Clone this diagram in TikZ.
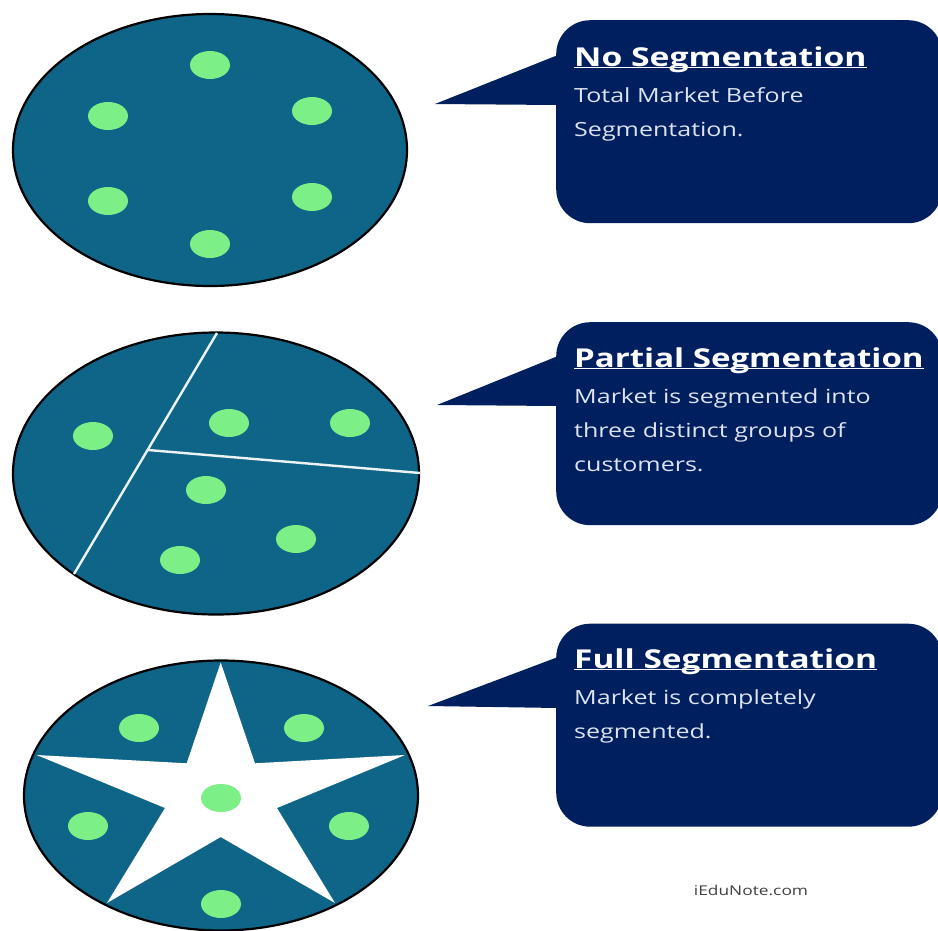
\documentclass[tikz,border=0pt]{standalone}
\usepackage{fontspec}
\usepackage{graphicx}
\setmainfont{Open Sans}
\usetikzlibrary{shapes.geometric}
\definecolor{teal1}{HTML}{0F6587}
\definecolor{navy1}{HTML}{001F5F}
\definecolor{green1}{HTML}{7DEF87}
\definecolor{body1}{HTML}{DDE4F0}
\newcommand{\wide}[1]{\scalebox{1.285}[1]{#1}}
\newcommand{\headline}[2]{\scalebox{#1}[1]{\underline{\smash{#2}}}}
\tikzset{
  x=1pt,y=-1pt,
  disc/.style={ellipse,draw=black,line width=2.2pt,fill=teal1,inner sep=0pt,minimum width=#1},
  dot/.style={ellipse,fill=green1,inner sep=0pt,minimum width=40pt,minimum height=28pt},
  bubble/.style={rectangle,fill=navy1,rounded corners=34pt,inner sep=0pt,minimum width=386pt,minimum height=203pt,anchor=north west},
  tail/.style={fill=navy1},
  head/.style={anchor=base west,inner sep=0pt,text=white,font=\fontsize{26}{30}\selectfont\bfseries},
  bodytext/.style={anchor=base west,inner sep=0pt,text=body1,font=\fontsize{19.5}{24}\selectfont},
  cut/.style={draw=white!92!teal1,line width=2.4pt}
}
\begin{document}
\begin{tikzpicture}
\useasboundingbox (0,0) rectangle (938,930);
\fill[white] (0,0) rectangle (938,930);
% circle 1
\node[disc=394pt,minimum height=272pt] (c1) at (210,150) {};
\foreach \n/\p in {a/{210,65},b/{108,116},c/{312,111},d/{108,201},e/{312,197},f/{210,244}}
  \node[dot] (d1\n) at (\p) {};
% circle 2
\node[disc=406pt,minimum height=282pt] (c2) at (216,473.5) {};
\coordinate (l1) at (217,333);
\coordinate (l2) at (74,574);
\coordinate (l3) at (148,450);
\coordinate (l4) at (420,473);
\draw[cut] (l1) -- (l2);
\draw[cut] (l3) -- (l4);
\foreach \n/\p in {a/{93,436},b/{229,423},c/{350,423},d/{206,490},e/{296,539},f/{180,560}}
  \node[dot] (d2\n) at (\p) {};
% circle 3
\node[disc=394pt,minimum height=270pt] (c3) at (221,795.5) {};
\fill[white] (220.7,662.5) -- (255,763.3) -- (405,755) -- (277,808) -- (335,903) -- (220.7,837)
  -- (107,903) -- (165,808) -- (36.7,755) -- (186.7,763.3) -- cycle;
\foreach \n/\p in {a/{139,728},b/{304,728},c/{221,798},d/{88,826},e/{349,826},f/{221,904}}
  \node[dot] (d3\n) at (\p) {};
% callouts
\node[bubble] (b1) at (556,20) {};
\fill[tail] (435,104) -- (558,55) -- (558,105) -- cycle;
\node[head] (t1) at (574,66) {\headline{1.295}{No Segmentation}};
\node[bodytext] (t1a) at (574,102) {\wide{Total Market Before}};
\node[bodytext] (t1b) at (574,136) {\wide{Segmentation.}};
\node[bubble] (b2) at (556,322) {};
\fill[tail] (437,405) -- (558,356) -- (558,406) -- cycle;
\node[head] (t2) at (574,367) {\headline{1.27}{Partial Segmentation}};
\node[bodytext] (t2a) at (574,403) {\wide{Market is segmented into}};
\node[bodytext] (t2b) at (574,437) {\wide{three distinct groups of}};
\node[bodytext] (t2c) at (574,471) {\wide{customers.}};
\node[bubble] (b3) at (556,623.5) {};
\fill[tail] (428,706) -- (558,657) -- (558,708) -- cycle;
\node[head] (t3) at (574,668) {\headline{1.285}{Full Segmentation}};
\node[bodytext] (t3a) at (574,704) {\wide{Market is completely}};
\node[bodytext] (t3b) at (574,738) {\wide{segmented.}};
\node[anchor=base,inner sep=0pt,text=black!75,font=\fontsize{13.5}{15}\selectfont] (src) at (751,895) {\wide{iEduNote.com}};
\end{tikzpicture}
\end{document}
